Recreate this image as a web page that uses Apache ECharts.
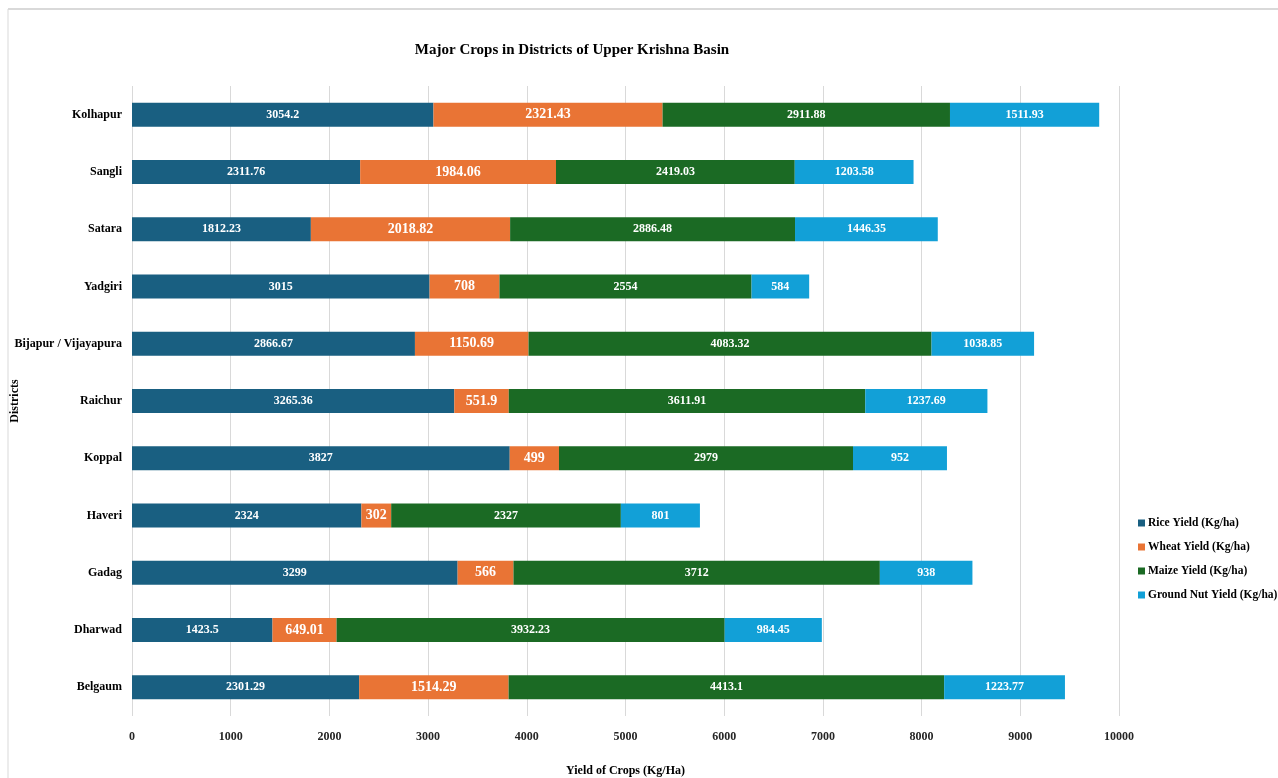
<!DOCTYPE html>
<html>
<head>
<meta charset="utf-8">
<title>Major Crops in Districts of Upper Krishna Basin</title>
<script src="https://cdn.jsdelivr.net/npm/echarts@6/dist/echarts.min.js"></script>
<style>
  html, body { margin: 0; padding: 0; background: #ffffff; }
  #chart { width: 1278px; height: 778px; }
</style>
</head>
<body>
<div id="chart"></div>
<script>
// Districts, listed top to bottom
const districts = ['Kolhapur', 'Sangli', 'Satara', 'Yadgiri', 'Bijapur / Vijayapura', 'Raichur', 'Koppal', 'Haveri', 'Gadag', 'Dharwad', 'Belgaum'];

// Yield per crop (Kg/ha), same order as districts
const riceYield      = [3054.2, 2311.76, 1812.23, 3015, 2866.67, 3265.36, 3827, 2324, 3299, 1423.5, 2301.29];
const wheatYield     = [2321.43, 1984.06, 2018.82, 708, 1150.69, 551.9, 499, 302, 566, 649.01, 1514.29];
const maizeYield     = [2911.88, 2419.03, 2886.48, 2554, 4083.32, 3611.91, 2979, 2327, 3712, 3932.23, 4413.1];
const groundnutYield = [1511.93, 1203.58, 1446.35, 584, 1038.85, 1237.69, 952, 801, 938, 984.45, 1223.77];

const seriesNames = ['Rice Yield (Kg/ha)', 'Wheat Yield (Kg/ha)', 'Maize Yield (Kg/ha)', 'Ground Nut Yield (Kg/ha)'];
const seriesColors = ['#195f81', '#e97435', '#1b6a24', '#12a0d7'];

const FONT = '"Liberation Serif", "DejaVu Serif", serif';

function barSeries(name, data, color, labelSize) {
  return {
    name: name,
    type: 'bar',
    stack: 'total',
    data: data,
    barWidth: 24,
    itemStyle: { color: color },
    label: {
      show: true,
      position: 'inside',
      color: '#ffffff',
      fontFamily: FONT,
      fontWeight: 'bold',
      fontSize: labelSize,
      formatter: '{c}'
    },
    emphasis: { disabled: true }
  };
}

const chart = echarts.init(document.getElementById('chart'), null, { renderer: 'canvas' });

chart.setOption({
  backgroundColor: '#ffffff',
  animation: false,
  title: {
    text: 'Major Crops in Districts of Upper Krishna Basin',
    left: 567,
    top: 38,
    textAlign: 'center',
    textStyle: { fontFamily: FONT, fontWeight: 'bold', fontSize: 15, color: '#000000' }
  },
  legend: {
    orient: 'vertical',
    left: 1133,
    top: 512,
    itemWidth: 7,
    itemHeight: 7,
    itemGap: 12,
    icon: 'rect',
    data: seriesNames,
    textStyle: { fontFamily: FONT, fontWeight: 'bold', fontSize: 11.5, color: '#000000', padding: [0, 0, 0, -2] }
  },
  grid: { left: 132, right: 159, top: 86, bottom: 62, containLabel: false, outerBoundsMode: 'none' },
  xAxis: {
    type: 'value',
    min: 0,
    max: 10000,
    interval: 1000,
    name: 'Yield of Crops (Kg/Ha)',
    nameLocation: 'middle',
    nameGap: 49,
    nameMoveOverlap: false,
    nameTextStyle: { fontFamily: FONT, fontWeight: 'bold', fontSize: 12, color: '#000000' },
    axisLine: { show: false },
    axisTick: { show: false },
    axisLabel: {
      fontFamily: FONT, fontWeight: 'bold', fontSize: 12, color: '#262626', margin: 15,
      formatter: function (v) { return String(v); }
    },
    splitLine: { show: true, lineStyle: { color: '#d9d9d9', width: 1 } }
  },
  yAxis: {
    type: 'category',
    data: districts,
    inverse: true,
    name: 'Districts',
    nameLocation: 'middle',
    nameGap: 111,
    nameRotate: 90,
    nameMoveOverlap: false,
    nameTextStyle: { fontFamily: FONT, fontWeight: 'bold', fontSize: 12, color: '#000000' },
    axisLine: { show: false },
    axisTick: { show: false },
    axisLabel: { fontFamily: FONT, fontWeight: 'bold', fontSize: 12, color: '#000000', margin: 10 },
    splitLine: { show: false }
  },
  series: [
    barSeries(seriesNames[0], riceYield, seriesColors[0], 12),
    barSeries(seriesNames[1], wheatYield, seriesColors[1], 14),
    barSeries(seriesNames[2], maizeYield, seriesColors[2], 12),
    barSeries(seriesNames[3], groundnutYield, seriesColors[3], 12)
  ],
  graphic: [
    // chart frame edges
    { type: 'line', shape: { x1: 8, y1: 9, x2: 1278, y2: 9 }, style: { stroke: '#d9d9d9', lineWidth: 2 }, silent: true },
    { type: 'line', shape: { x1: 8, y1: 9, x2: 8, y2: 778 }, style: { stroke: '#d9d9d9', lineWidth: 1 }, silent: true }
  ]
});
</script>
</body>
</html>
